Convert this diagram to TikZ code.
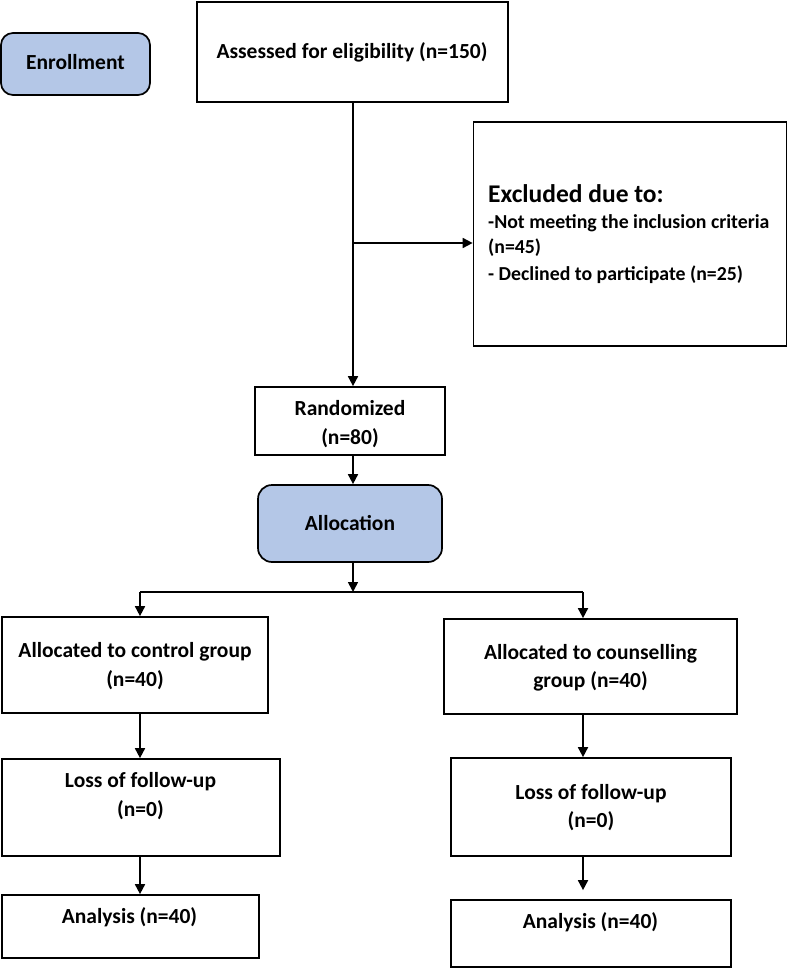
\documentclass[tikz,border=0pt]{standalone}
\usepackage{fontspec}
\setmainfont{Carlito}
\usetikzlibrary{arrows.meta,calc}
\definecolor{phase}{HTML}{B4C7E7}
\tikzset{
  box/.style={draw=black, line width=1.7pt, fill=white, inner sep=0pt, rectangle},
  phasebox/.style={draw=black, line width=1.7pt, fill=phase, inner sep=0pt, rectangle, rounded corners=12pt},
  txt/.style={anchor=base, inner sep=0pt, font=\bfseries\fontsize{21.5}{26}\selectfont},
  exttl/.style={anchor=base west, inner sep=0pt, font=\bfseries\fontsize{25.5}{30}\selectfont},
  exitem/.style={anchor=base west, inner sep=0pt, font=\bfseries\fontsize{19.8}{24}\selectfont},
  conn/.style={line width=1.7pt, draw=black},
  arr/.style={conn, -{Triangle[length=10pt,width=10pt]}}
}
\begin{document}
\begin{tikzpicture}[x=1pt,y=-1pt]
\useasboundingbox (0,0) rectangle (788,968);
% boxes
\node[phasebox, minimum width=149pt, minimum height=62pt] (enroll) at (75.5,64) {};
\node[box, minimum width=311pt, minimum height=100pt] (assess) at (352.5,52) {};
\node[box, minimum width=313pt, minimum height=224pt] (excl) at (630,234) {};
\node[box, minimum width=190pt, minimum height=68pt] (rand) at (350,421) {};
\node[phasebox, rounded corners=14pt, minimum width=184pt, minimum height=77pt] (alloc) at (350,523.5) {};
\node[box, minimum width=266pt, minimum height=96pt] (ctrl) at (135,665) {};
\node[box, minimum width=278pt, minimum height=97pt] (lossA) at (141,807.5) {};
\node[box, minimum width=257pt, minimum height=63pt] (anaA) at (130.5,926.5) {};
\node[box, minimum width=293pt, minimum height=95pt] (coun) at (590.5,666.5) {};
\node[box, minimum width=280pt, minimum height=98pt] (lossB) at (591,807) {};
\node[box, minimum width=280pt, minimum height=67pt] (anaB) at (591,933.5) {};
% texts
\node[txt] (enroll-t) at (75.5,70) {Enrollment};
\node[txt] (assess-t) at (352,59) {Assessed for eligibility (n=150)};
\node[exttl] (excl-t0) at (488,203) {Excluded due to:};
\node[exitem] (excl-t1) at (488,229) {-Not meeting the inclusion criteria};
\node[exitem] (excl-t2) at (488,254) {(n=45)};
\node[exitem] (excl-t3) at (488,280) {- Declined to participate (n=25)};
\node[txt] (rand-t1) at (350,415) {Randomized};
\node[txt] (rand-t2) at (350,444) {(n=80)};
\node[txt] (alloc-t) at (350,530) {Allocation};
\node[txt] (ctrl-t1) at (135,657.5) {Allocated to control group};
\node[txt] (ctrl-t2) at (135,686) {(n=40)};
\node[txt] (lossA-t1) at (140.5,787) {Loss of follow-up};
\node[txt] (lossA-t2) at (140.5,816) {(n=0)};
\node[txt] (anaA-t) at (129.5,923) {Analysis (n=40)};
\node[txt] (coun-t1) at (590.5,659) {Allocated to counselling};
\node[txt] (coun-t2) at (590.5,687) {group (n=40)};
\node[txt] (lossB-t1) at (591,799) {Loss of follow-up};
\node[txt] (lossB-t2) at (591,827) {(n=0)};
\node[txt] (anaB-t) at (590.5,928) {Analysis (n=40)};
% junction points
\coordinate (jx) at (353,243);
\coordinate (bc) at (353,592);
\coordinate (bl) at (140,592);
\coordinate (br) at (583,592);
% connectors
\draw[arr] (assess.south -| bc) -- (rand.north -| bc);
\draw[arr] (jx) -- (jx -| excl.west);
\draw[arr] (rand.south -| bc) -- (alloc.north -| bc);
\draw[arr] (alloc.south -| bc) -- (bc);
\draw[conn] (bl) -- (br);
\draw[arr] (bl) -- (ctrl.north -| bl);
\draw[arr] (br) -- (coun.north -| br);
\draw[arr] (ctrl.south -| bl) -- (lossA.north -| bl);
\draw[arr] (lossA.south -| bl) -- (anaA.north -| bl);
\draw[arr] (coun.south -| br) -- (lossB.north -| br);
\draw[arr, shorten >=9pt] (lossB.south -| br) -- (anaB.north -| br);
\end{tikzpicture}
\end{document}
